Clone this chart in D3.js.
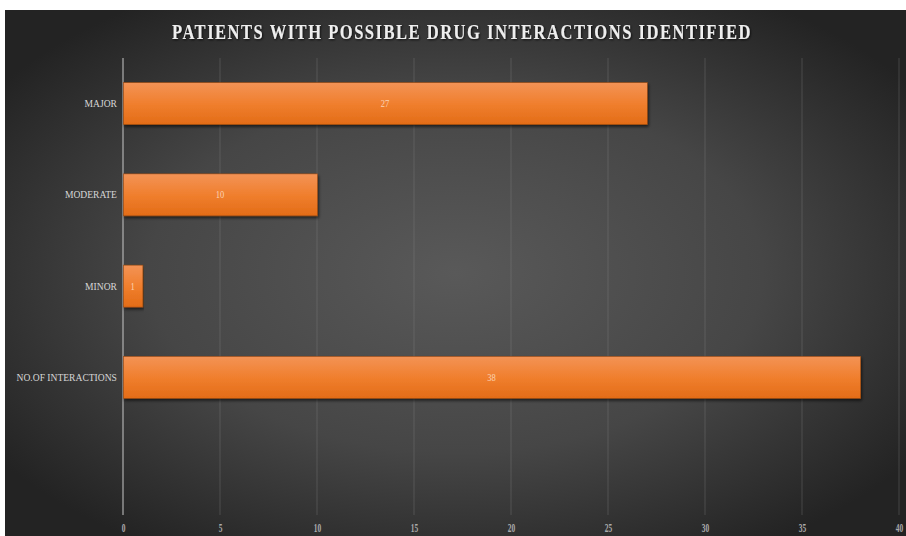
<!DOCTYPE html>
<html>
<head>
<meta charset="utf-8">
<script src="https://cdn.jsdelivr.net/npm/d3@7"></script>
<style>
  html, body { margin: 0; padding: 0; background: #ffffff; }
  svg { display: block; }
</style>
</head>
<body>
<script>
// Chart data
const categories = ["MAJOR", "MODERATE", "MINOR", "NO.OF INTERACTIONS"];
const counts = [27, 10, 1, 38];
const tickValues = [0, 5, 10, 15, 20, 25, 30, 35, 40];
const chartTitle = "PATIENTS WITH POSSIBLE DRUG INTERACTIONS IDENTIFIED";

const W = 906, H = 536;
const serif = "'Liberation Serif', 'Times New Roman', serif";
const svg = d3.select("body").append("svg").attr("width", W).attr("height", H);
const defs = svg.append("defs");

// Dark panel with a soft lighter centre
const bg = defs.append("radialGradient").attr("id", "bgGrad")
  .attr("cx", "50%").attr("cy", "50%").attr("r", "62%");
bg.append("stop").attr("offset", "0%").attr("stop-color", "#595959");
bg.append("stop").attr("offset", "55%").attr("stop-color", "#464646");
bg.append("stop").attr("offset", "100%").attr("stop-color", "#232323");

const barGrad = defs.append("linearGradient").attr("id", "barGrad")
  .attr("x1", 0).attr("y1", 0).attr("x2", 0).attr("y2", 1);
barGrad.append("stop").attr("offset", "0%").attr("stop-color", "#f39356");
barGrad.append("stop").attr("offset", "50%").attr("stop-color", "#f07f2e");
barGrad.append("stop").attr("offset", "100%").attr("stop-color", "#e36c17");

const shadow = defs.append("filter").attr("id", "barShadow")
  .attr("x", "-5%").attr("y", "-20%").attr("width", "110%").attr("height", "150%");
shadow.append("feDropShadow").attr("dx", 1).attr("dy", 2).attr("stdDeviation", 1.5)
  .attr("flood-color", "#000").attr("flood-opacity", 0.6);

const titleShadow = defs.append("filter").attr("id", "titleShadow");
titleShadow.append("feDropShadow").attr("dx", 1).attr("dy", 1).attr("stdDeviation", 1)
  .attr("flood-color", "#000").attr("flood-opacity", 0.8);

svg.append("rect").attr("x", 5).attr("y", 10).attr("width", W - 5).attr("height", H - 10)
  .attr("fill", "url(#bgGrad)");

const plot = { left: 123, right: 899, top: 58, bottom: 515 };

const x = d3.scaleLinear().domain([0, 40]).range([plot.left, plot.right]);
const y = d3.scaleBand().domain(categories)
  .range([plot.top, plot.top + 4 * 91.25])
  .paddingInner(0.54).paddingOuter(0.27);

// Vertical gridlines
svg.append("g").selectAll("line").data(tickValues.filter(d => d > 0)).join("line")
  .attr("x1", d => x(d)).attr("x2", d => x(d))
  .attr("y1", plot.top).attr("y2", plot.bottom)
  .attr("stroke", "#8a8a8a").attr("stroke-opacity", 0.32).attr("stroke-width", 1);

// Category axis line
svg.append("line")
  .attr("x1", x(0)).attr("x2", x(0)).attr("y1", plot.top).attr("y2", plot.bottom)
  .attr("stroke", "#c8c8c8").attr("stroke-width", 1);

// Bars
svg.append("g").selectAll("rect").data(categories).join("rect")
  .attr("x", x(0) + 0.5)
  .attr("y", d => y(d))
  .attr("width", (d, i) => x(counts[i]) - x(0))
  .attr("height", y.bandwidth())
  .attr("fill", "url(#barGrad)")
  .attr("stroke", "#9a4a12").attr("stroke-width", 0.6)
  .attr("filter", "url(#barShadow)");

// Value labels
svg.append("g").selectAll("text").data(categories).join("text")
  .attr("x", (d, i) => (x(0) + x(counts[i])) / 2)
  .attr("y", d => y(d) + y.bandwidth() / 2)
  .attr("dy", "0.35em")
  .attr("text-anchor", "middle")
  .attr("font-family", serif)
  .attr("font-size", 10)
  .attr("fill", "#fbd3b4")
  .attr("transform", (d, i) => {
    const cx = (x(0) + x(counts[i])) / 2;
    return `translate(${cx},0) scale(0.85,1) translate(${-cx},0)`;
  })
  .text((d, i) => counts[i]);

// Category labels
const yAxis = d3.axisLeft(y).tickSize(0).tickPadding(7);
const yg = svg.append("g").attr("transform", `translate(${x(0)},0)`).call(yAxis);
yg.select(".domain").remove();
yg.selectAll("text")
  .attr("font-family", serif)
  .attr("font-size", 11)
  .attr("fill", "#d6d6d6")
  .attr("transform", "scale(0.87,1)");

// Value axis labels
const xAxis = d3.axisBottom(x).tickValues(tickValues).tickSize(0).tickPadding(8);
const xg = svg.append("g").attr("transform", `translate(0,${plot.bottom})`).call(xAxis);
xg.select(".domain").remove();
xg.selectAll("text")
  .attr("font-family", serif)
  .attr("font-size", 12)
  .attr("font-weight", "bold")
  .attr("fill", "#ababab")
  .attr("transform", "scale(0.62,1)");

// Title: condensed bold serif with open tracking
const titleG = svg.append("g");
const titleText = titleG.append("text")
  .attr("x", 0).attr("y", 0)
  .attr("font-family", serif)
  .attr("font-weight", "bold")
  .attr("font-size", 20)
  .attr("letter-spacing", 1.8)
  .attr("fill", "#eeeeee")
  .attr("filter", "url(#titleShadow)")
  .text(chartTitle);
const natural = titleText.node().getComputedTextLength();
titleG.attr("transform", `translate(172,39) scale(${580 / natural},1)`);
</script>
</body>
</html>
